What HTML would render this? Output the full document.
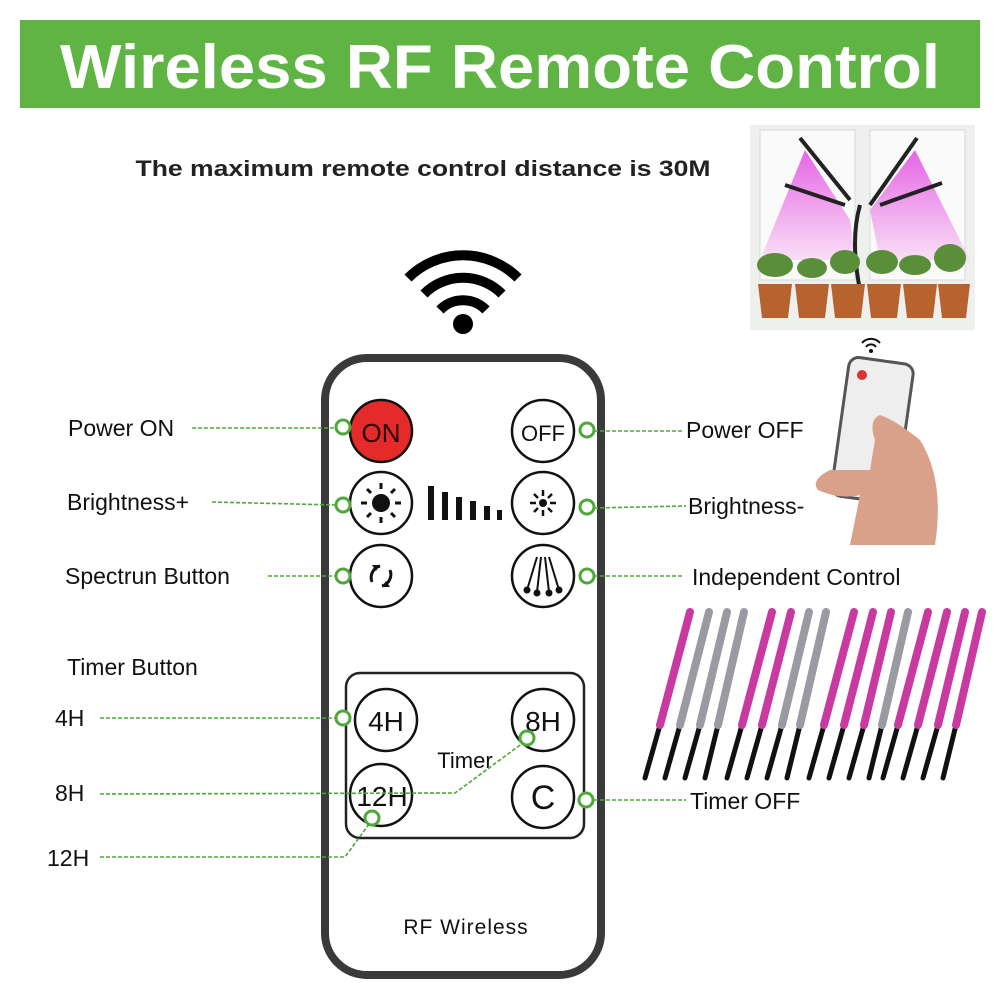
<!DOCTYPE html>
<html><head><meta charset="utf-8"><style>
html,body{margin:0;padding:0;background:#fff;}
svg{display:block}
text{font-family:"Liberation Sans",sans-serif;}
</style></head><body>
<svg width="1000" height="1000" viewBox="0 0 1000 1000" xmlns="http://www.w3.org/2000/svg">
<defs>
<linearGradient id="beamL" x1="0" y1="0" x2="0" y2="1"><stop offset="0" stop-color="#e040e0"/><stop offset="1" stop-color="#f8d8f4"/></linearGradient>
<linearGradient id="bar" x1="0" y1="0" x2="1" y2="0"><stop offset="0" stop-color="#c02a90"/><stop offset=".5" stop-color="#e86ad0"/><stop offset="1" stop-color="#8a2a80"/></linearGradient>
</defs>
<rect x="20" y="20" width="960" height="88" fill="#5fb444"/>
<text x="500" y="88" text-anchor="middle" font-size="62" font-weight="bold" fill="#fff" textLength="880" lengthAdjust="spacingAndGlyphs">Wireless RF Remote Control</text>
<text x="423" y="176" text-anchor="middle" font-size="22" font-weight="bold" fill="#222" textLength="575" lengthAdjust="spacingAndGlyphs">The maximum remote control distance is 30M</text>

<!-- wifi -->
<g fill="none" stroke="#000" stroke-width="10" stroke-linecap="butt">
<path d="M408 278 A78 78 0 0 1 518 278"/>
<path d="M424 294 A55 55 0 0 1 502 294"/>
<path d="M440 310 A32 32 0 0 1 486 310"/>
</g>
<circle cx="463" cy="324" r="10" fill="#000"/>

<!-- remote -->
<rect x="325" y="358" width="276" height="617" rx="42" fill="#fff" stroke="#3a3a3a" stroke-width="8"/>
<g stroke="#111" stroke-width="2.5" fill="#fff">
<circle cx="381" cy="431" r="31" fill="#e52a2a"/>
<circle cx="543" cy="431" r="31"/>
<circle cx="381" cy="503" r="31"/>
<circle cx="543" cy="503" r="31"/>
<circle cx="381" cy="576" r="31"/>
<circle cx="543" cy="576" r="31"/>
</g>
<text x="381" y="442" text-anchor="middle" font-size="26" fill="#2a0000">ON</text>
<text x="543" y="441" text-anchor="middle" font-size="22" fill="#111">OFF</text>
<!-- sun big -->
<circle cx="381" cy="503" r="9" fill="#111"/>
<g stroke="#111" stroke-width="3"><line x1="381" y1="483" x2="381" y2="489"/><line x1="381" y1="517" x2="381" y2="523"/><line x1="361" y1="503" x2="367" y2="503"/><line x1="395" y1="503" x2="401" y2="503"/><line x1="367" y1="489" x2="371" y2="493"/><line x1="391" y1="513" x2="395" y2="517"/><line x1="395" y1="489" x2="391" y2="493"/><line x1="367" y1="517" x2="371" y2="513"/></g>
<circle cx="543" cy="503" r="4" fill="#111"/>
<g stroke="#111" stroke-width="2.5"><line x1="543" y1="490" x2="543" y2="496"/><line x1="543" y1="510" x2="543" y2="516"/><line x1="530" y1="503" x2="536" y2="503"/><line x1="550" y1="503" x2="556" y2="503"/><line x1="534" y1="494" x2="538" y2="498"/><line x1="548" y1="508" x2="552" y2="512"/><line x1="552" y1="494" x2="548" y2="498"/><line x1="534" y1="512" x2="538" y2="508"/></g>
<g fill="#111"><rect x="428" y="486" width="6" height="34"/><rect x="442" y="492" width="6" height="28"/><rect x="456" y="497" width="6" height="23"/><rect x="470" y="501" width="6" height="19"/><rect x="484" y="506" width="6" height="14"/><rect x="497" y="510" width="5" height="10"/></g>
<g fill="none" stroke="#111" stroke-width="3"><path d="M380 566 A12 12 0 0 0 372 582"/><path d="M382 586 A12 12 0 0 0 390 570"/></g>
<path d="M372 565 l8 0 -4 6z M390 587 l-8 0 4 -6z" fill="#111"/>
<g stroke="#111" stroke-width="2" fill="#111"><line x1="537" y1="557" x2="527" y2="590"/><line x1="541" y1="557" x2="537" y2="592"/><line x1="545" y1="557" x2="549" y2="592"/><line x1="549" y1="557" x2="559" y2="590"/><circle cx="527" cy="590" r="2.5"/><circle cx="537" cy="593" r="2.5"/><circle cx="549" cy="593" r="2.5"/><circle cx="559" cy="590" r="2.5"/></g>

<rect x="346" y="673" width="238" height="165" rx="14" fill="none" stroke="#222" stroke-width="2.5"/>
<g stroke="#111" stroke-width="2.5" fill="#fff">
<circle cx="386" cy="720" r="31"/><circle cx="543" cy="720" r="31"/><circle cx="381" cy="795" r="31"/><circle cx="543" cy="797" r="31"/>
</g>
<text x="386" y="731" text-anchor="middle" font-size="28" fill="#111">4H</text>
<text x="543" y="731" text-anchor="middle" font-size="28" fill="#111">8H</text>
<text x="382" y="806" text-anchor="middle" font-size="28" fill="#111">12H</text>
<text x="543" y="809" text-anchor="middle" font-size="34" fill="#111">C</text>
<text x="465" y="768" text-anchor="middle" font-size="22" fill="#111">Timer</text>
<text x="466" y="934" text-anchor="middle" font-size="21" font-family="Liberation Mono,monospace" fill="#111" letter-spacing="1">RF Wireless</text>

<!-- connectors -->
<g stroke="#4fa83a" stroke-width="1.6" stroke-dasharray="4,2" fill="none">
<line x1="192" y1="428" x2="336" y2="428"/>
<line x1="212" y1="502" x2="336" y2="505"/>
<line x1="268" y1="576" x2="336" y2="576"/>
<line x1="100" y1="718" x2="336" y2="718"/>
<path d="M100 794 L455 793 L527 740"/>
<path d="M100 857 L345 857 L372 820"/>
<line x1="594" y1="431" x2="682" y2="431"/>
<line x1="594" y1="508" x2="686" y2="506"/>
<line x1="594" y1="576" x2="684" y2="576"/>
<line x1="594" y1="800" x2="686" y2="800"/>
</g>
<g stroke="#4fa83a" stroke-width="3" fill="#fff">
<circle cx="343" cy="427" r="7"/><circle cx="343" cy="505" r="7"/><circle cx="343" cy="576" r="7"/><circle cx="343" cy="718" r="7"/><circle cx="527" cy="738" r="7"/><circle cx="372" cy="818" r="7"/>
<circle cx="587" cy="430" r="7"/><circle cx="587" cy="507" r="7"/><circle cx="587" cy="576" r="7"/><circle cx="586" cy="800" r="7"/>
</g>

<g font-size="23" fill="#111">
<text x="68" y="436">Power ON</text>
<text x="67" y="510">Brightness+</text>
<text x="65" y="584">Spectrun Button</text>
<text x="67" y="675">Timer Button</text>
<text x="55" y="726">4H</text>
<text x="55" y="801">8H</text>
<text x="47" y="866">12H</text>
<text x="686" y="438">Power OFF</text>
<text x="688" y="514">Brightness-</text>
<text x="692" y="585">Independent Control</text>
<text x="690" y="809">Timer OFF</text>
</g>

<!-- photo -->
<rect x="750" y="125" width="225" height="205" fill="#eef0ee"/>
<rect x="760" y="130" width="95" height="150" fill="#fafafa" stroke="#d8d8d8"/>
<rect x="870" y="130" width="95" height="150" fill="#fafafa" stroke="#d8d8d8"/>
<path d="M805 150 L760 260 L855 260 L850 220Z" fill="url(#beamL)" opacity=".8"/>
<path d="M915 150 L970 260 L880 260 L870 210Z" fill="url(#beamL)" opacity=".8"/>
<g stroke="#222" stroke-width="4"><line x1="800" y1="138" x2="850" y2="200"/><line x1="917" y1="138" x2="870" y2="205"/><line x1="785" y1="185" x2="845" y2="205"/><line x1="942" y1="183" x2="880" y2="205"/></g>
<path d="M860 205 Q850 240 860 290" stroke="#222" stroke-width="4" fill="none"/>
<g fill="#5a8f3a"><ellipse cx="775" cy="265" rx="18" ry="12"/><ellipse cx="812" cy="268" rx="15" ry="10"/><ellipse cx="845" cy="262" rx="15" ry="12"/><ellipse cx="882" cy="262" rx="16" ry="12"/><ellipse cx="915" cy="265" rx="16" ry="10"/><ellipse cx="950" cy="258" rx="16" ry="14"/></g>
<g fill="#b8622e"><path d="M758 284h34l-4 34h-26z"/><path d="M795 284h34l-4 34h-26z"/><path d="M831 284h34l-4 34h-26z"/><path d="M867 284h34l-4 34h-26z"/><path d="M903 284h34l-4 34h-26z"/><path d="M938 284h32l-4 34h-24z"/></g>

<!-- hand & small remote -->
<g fill="none" stroke="#111" stroke-width="2"><path d="M862 343 A12 12 0 0 1 880 343"/><path d="M866 347 A6 6 0 0 1 876 347"/></g>
<circle cx="871" cy="351" r="2" fill="#111"/>
<rect x="840" y="360" width="65" height="140" rx="10" transform="rotate(8 872 430)" fill="#eee" stroke="#555" stroke-width="3"/>
<circle cx="862" cy="375" r="5" fill="#d33"/>
<path d="M830 470 Q810 480 818 490 Q840 500 860 495 L850 545 L935 545 Q945 480 920 440 Q895 420 880 415 Q868 420 875 440 L870 470Z" fill="#d9a18a"/>

<!-- light bars -->
<g stroke-linecap="round">
<g id="grp">
<line x1="645" y1="778" x2="660" y2="725" stroke="#111" stroke-width="5"/>
<line x1="660" y1="725" x2="690" y2="612" stroke="#c93aa0" stroke-width="8"/>
<line x1="665" y1="778" x2="680" y2="725" stroke="#111" stroke-width="5"/>
<line x1="680" y1="725" x2="709" y2="612" stroke="#9a9aa2" stroke-width="8"/>
<line x1="685" y1="778" x2="700" y2="725" stroke="#111" stroke-width="5"/>
<line x1="700" y1="725" x2="727" y2="612" stroke="#9a9aa2" stroke-width="8"/>
<line x1="705" y1="778" x2="718" y2="725" stroke="#111" stroke-width="5"/>
<line x1="718" y1="725" x2="744" y2="612" stroke="#9a9aa2" stroke-width="8"/>
</g>
<g transform="translate(82,0)">
<line x1="645" y1="778" x2="660" y2="725" stroke="#111" stroke-width="5"/><line x1="660" y1="725" x2="690" y2="612" stroke="#c93aa0" stroke-width="8"/>
<line x1="665" y1="778" x2="680" y2="725" stroke="#111" stroke-width="5"/><line x1="680" y1="725" x2="709" y2="612" stroke="#c93aa0" stroke-width="8"/>
<line x1="685" y1="778" x2="700" y2="725" stroke="#111" stroke-width="5"/><line x1="700" y1="725" x2="727" y2="612" stroke="#9a9aa2" stroke-width="8"/>
<line x1="705" y1="778" x2="718" y2="725" stroke="#111" stroke-width="5"/><line x1="718" y1="725" x2="744" y2="612" stroke="#9a9aa2" stroke-width="8"/>
</g>
<g transform="translate(164,0)">
<line x1="645" y1="778" x2="660" y2="725" stroke="#111" stroke-width="5"/><line x1="660" y1="725" x2="690" y2="612" stroke="#c93aa0" stroke-width="8"/>
<line x1="665" y1="778" x2="680" y2="725" stroke="#111" stroke-width="5"/><line x1="680" y1="725" x2="709" y2="612" stroke="#c93aa0" stroke-width="8"/>
<line x1="685" y1="778" x2="700" y2="725" stroke="#111" stroke-width="5"/><line x1="700" y1="725" x2="727" y2="612" stroke="#c93aa0" stroke-width="8"/>
<line x1="705" y1="778" x2="718" y2="725" stroke="#111" stroke-width="5"/><line x1="718" y1="725" x2="744" y2="612" stroke="#9a9aa2" stroke-width="8"/>
</g>
<g transform="translate(238,0)">
<line x1="645" y1="778" x2="660" y2="725" stroke="#111" stroke-width="5"/><line x1="660" y1="725" x2="690" y2="612" stroke="#c93aa0" stroke-width="8"/>
<line x1="665" y1="778" x2="680" y2="725" stroke="#111" stroke-width="5"/><line x1="680" y1="725" x2="709" y2="612" stroke="#c93aa0" stroke-width="8"/>
<line x1="685" y1="778" x2="700" y2="725" stroke="#111" stroke-width="5"/><line x1="700" y1="725" x2="727" y2="612" stroke="#c93aa0" stroke-width="8"/>
<line x1="705" y1="778" x2="718" y2="725" stroke="#111" stroke-width="5"/><line x1="718" y1="725" x2="744" y2="612" stroke="#c93aa0" stroke-width="8"/>
</g>
</g>
</svg>
</body></html>
